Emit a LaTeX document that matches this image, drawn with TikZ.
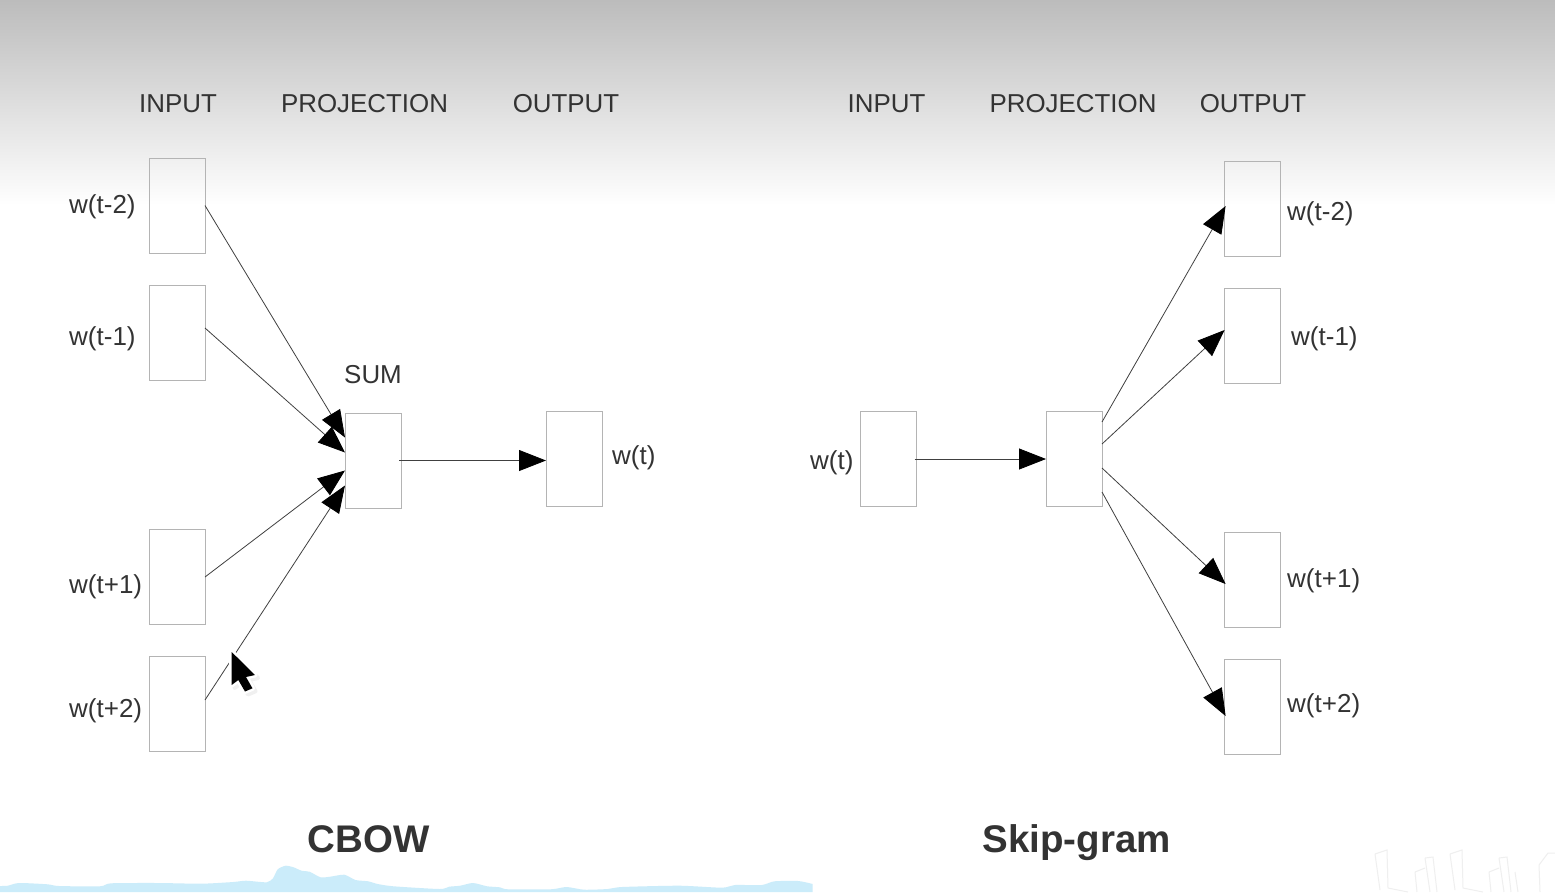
\documentclass[tikz,border=0pt]{standalone}
\usepackage{fontspec}
\setmainfont{Liberation Sans}
\usetikzlibrary{arrows.meta,calc}
\definecolor{ink}{HTML}{333333}
\definecolor{boxline}{HTML}{B4B4B4}
\definecolor{hill}{HTML}{CBECFA}
\definecolor{mark}{HTML}{EFEFEF}
\definecolor{topgrey}{HTML}{BCBCBC}
\tikzset{
  vecbox/.style={draw=boxline,line width=1pt,minimum width=56pt,minimum height=95pt,inner sep=0pt,outer sep=0pt},
  lab/.style={text=ink,font=\fontsize{25.9}{30}\selectfont,inner sep=0pt,anchor=center},
  wlab/.style={text=ink,font=\fontsize{26}{30}\selectfont,inner sep=0pt,anchor=west},
  big/.style={text=ink,font=\fontsize{38.5}{44}\selectfont\bfseries,inner sep=0pt,anchor=center},
  link/.style={draw=black!75,line width=0.8pt,-{Triangle[length=27pt,width=21pt,color=black,fill=black]}},
}
\begin{document}
\begin{tikzpicture}[x=1pt,y=-1pt]
\useasboundingbox (0,0) rectangle (1555,892);
\fill[white] (0,0) rectangle (1555,892);
\shade[top color=topgrey,bottom color=white] (0,0) rectangle (1555,205);
% hills
\begin{scope}[xscale=1.587]
\fill[hill] plot[smooth,tension=0.4] coordinates {(0,886) (5,885.7) (12,883) (30,884.3) (37,886) (63,886.3) (70,883.3) (100,883) (127,883.7) (147,882) (155,880.7) (168,882.3) (172,878.3) (175,869.3) (180,865.7) (185,867.3) (190,870.7) (195,871.7) (202,877.3) (208,876.7) (217,874.7) (224,880) (232,881.3) (238,884) (248,886.3) (277,889) (283,886.7) (290,885.7) (298,883) (307,886.3) (315,887.3) (320,889.3) (347,889.3) (357,887) (368,889.7) (383,889) (392,887) (428,885.7) (455,887.7) (463,885) (480,885) (488,881.3) (503,881) (512,884)} -- (512,892) -- (0,892) -- cycle;
\end{scope}
% watermark
\begin{scope}[draw=mark,line width=1pt]
\draw (1375,854) -- (1380,890) (1375,854) -- (1387,850) -- (1388,888) -- (1408,892);
\draw (1415,872) -- (1417,892) (1415,872) -- (1425,868) (1425,858) -- (1430,892) (1425,858) -- (1433,857) -- (1437,892);
\draw (1450,854) -- (1455,890) (1450,854) -- (1462,850) -- (1463,888) -- (1483,892);
\draw (1489,872) -- (1491,892) (1489,872) -- (1499,868) (1499,858) -- (1504,892) (1499,858) -- (1507,857) -- (1511,892) (1515,872) -- (1518,892);
\draw (1540,892) -- (1539,865) -- (1548,853) -- (1555,853);
\end{scope}
% headings
\node[lab] (h1) at (178,104) {INPUT};
\node[lab] (h2) at (364.5,104) {PROJECTION};
\node[lab] (h3) at (566,104) {OUTPUT};
\node[lab] (h4) at (886.5,104) {INPUT};
\node[lab] (h5) at (1073,104) {PROJECTION};
\node[lab] (h6) at (1253,104) {OUTPUT};
\node[lab] (sumlab) at (373,375) {SUM};
\node[big] (cbow) at (368.5,839) {CBOW};
\node[big] (skip) at (1076.5,843) {Skip-gram};
% CBOW boxes
\node[vecbox] (a1) at (177,205.5) {};
\node[vecbox] (a2) at (177,333) {};
\node[vecbox] (a3) at (177,577) {};
\node[vecbox] (a4) at (177,704) {};
\node[vecbox] (s) at (373,460.5) {};
\node[vecbox] (o) at (574,459) {};
% Skip-gram boxes
\node[vecbox] (b) at (888.5,459) {};
\node[vecbox] (p) at (1074,459) {};
\node[vecbox] (c1) at (1252.6,208.5) {};
\node[vecbox] (c2) at (1252.6,336) {};
\node[vecbox] (c3) at (1252.6,580) {};
\node[vecbox] (c4) at (1252.6,707) {};
% word labels
\node[wlab] (la1) at (69,207) {w(t-2)};
\node[wlab] (la2) at (69,339) {w(t-1)};
\node[wlab] (la3) at (69,587) {w(t+1)};
\node[wlab] (la4) at (69,711) {w(t+2)};
\node[wlab] (lo) at (612,458) {w(t)};
\node[wlab] (lb) at (810,463) {w(t)};
\node[wlab] (lc1) at (1287,214) {w(t-2)};
\node[wlab] (lc2) at (1291,339) {w(t-1)};
\node[wlab] (lc3) at (1287,581) {w(t+1)};
\node[wlab] (lc4) at (1287,706) {w(t+2)};
% connectors
\draw[link] (a1.east) -- ([yshift=23pt]s.west);
\draw[link] ([yshift=5pt]a2.east) -- ([yshift=8pt]s.west);
\draw[link] (a3.east) -- ([yshift=-10pt]s.west);
\draw[link] ([yshift=4pt]a4.east) -- ([yshift=-25pt]s.west);
\draw[link] ([xshift=-2pt]s.east) -- (o.west |- s.east);
\draw[link] ([xshift=-2pt]b.east) -- (p.west);
\draw[link] ([yshift=37pt]p.east) -- ([yshift=2.5pt,xshift=1pt]c1.west);
\draw[link] ([yshift=15pt]p.east) -- ([yshift=6pt]c2.west);
\draw[link] ([yshift=-9pt]p.east) -- ([yshift=-4pt,xshift=1pt]c3.west);
\draw[link] ([yshift=-33pt]p.east) -- ([yshift=-9pt,xshift=1pt]c4.west);
% cursor
\def\cursorshape{(231.7,652) -- (255,675) -- (246,677) -- (252.5,688.3) -- (245,691.5) -- (238.3,680) -- (231.7,685) -- cycle}
\begin{scope}[shift={(3,3)}]
\filldraw[black!6,line width=4pt,line join=round] \cursorshape;
\end{scope}
\filldraw[fill=white,draw=white,line width=5pt,line join=round] \cursorshape;
\fill[black] \cursorshape;
\end{tikzpicture}
\end{document}
